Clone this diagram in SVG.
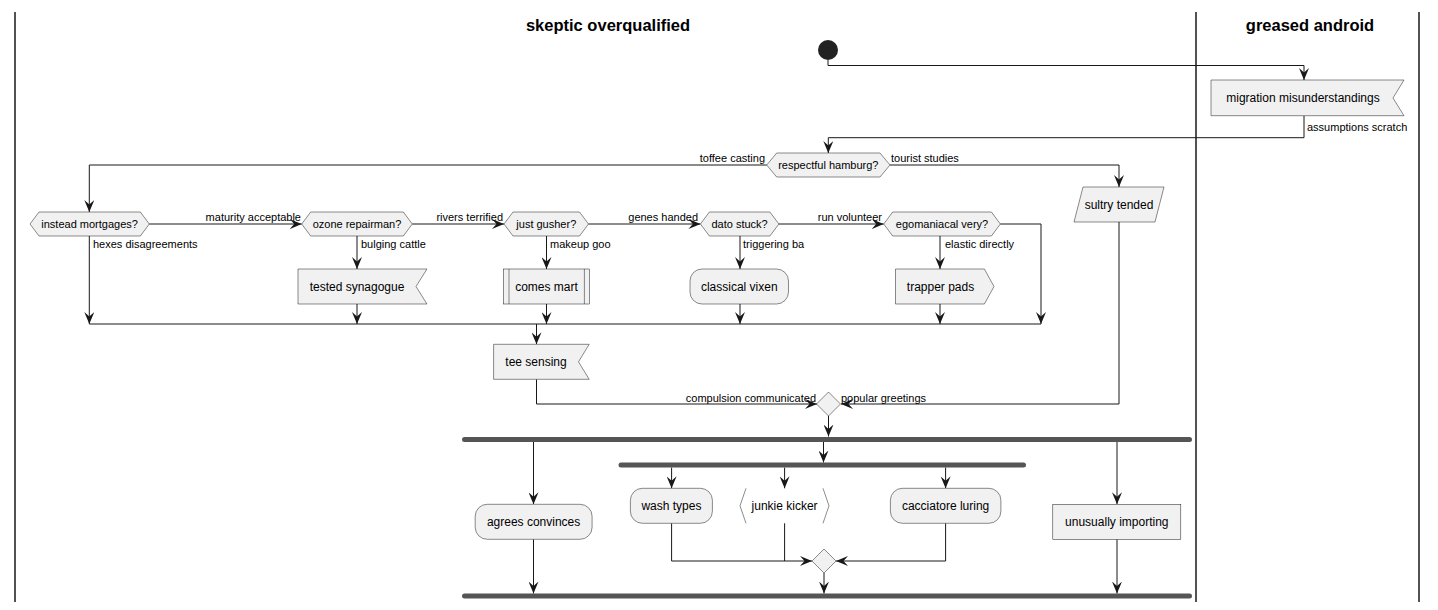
<svg xmlns="http://www.w3.org/2000/svg" width="1438" height="610" viewBox="0 0 1438 610">
<defs>
<marker id="ah" viewBox="0 0 12 10" refX="12" refY="5" markerWidth="12" markerHeight="10" markerUnits="userSpaceOnUse" orient="auto">
<path d="M0,0 L12,5 L0,10 L4.5,5 Z" fill="#181818"/>
</marker>
</defs>
<style>
.lane{stroke:#181818;stroke-width:1.5;fill:none}
.title{font-family:"Liberation Sans",Arial,sans-serif;font-size:16.5px;font-weight:bold;fill:#000;text-anchor:middle}
.n{fill:#F1F1F1;stroke:#181818;stroke-width:0.5}
.t{font-family:"Liberation Sans",Arial,sans-serif;font-size:12px;fill:#000;text-anchor:middle}
.ht{font-family:"Liberation Sans",Arial,sans-serif;font-size:11px;fill:#000;text-anchor:middle}
.lbl{font-family:"Liberation Sans",Arial,sans-serif;font-size:11px;fill:#000}
.e{fill:none;stroke:#181818;stroke-width:1}
.a{fill:none;stroke:#181818;stroke-width:1;marker-end:url(#ah)}
.bar{fill:#555555}
</style>
<rect width="1438" height="610" fill="#FFFFFF"/>
<g id="lanes">
<line class="lane" x1="15" y1="12" x2="15" y2="602"/>
<line class="lane" x1="1196" y1="12" x2="1196" y2="602"/>
<line class="lane" x1="1419" y1="12" x2="1419" y2="602"/>
<text class="title" x="608" y="31">skeptic overqualified</text>
<text class="title" x="1310" y="31">greased android</text>
</g>
<g id="connectors">
<polyline class="a" points="828,60 828,65.5 1304,65.5 1304,80"/>
<polyline class="a" points="1304,115.7 1304,137.7 828.3,137.7 828.3,153"/>
<polyline class="a" points="766.7,165 89.3,165 89.3,212"/>
<polyline class="a" points="890,165 1119,165 1119,187"/>
<polyline class="a" points="149.3,224 301.7,224"/>
<polyline class="a" points="412.3,224 504,224"/>
<polyline class="a" points="588.5,224 700.4,224"/>
<polyline class="a" points="778.9,224 883.7,224"/>
<polyline class="a" points="1000.4,224 1041,224 1041,324"/>
<polyline class="a" points="89.3,236 89.3,324"/>
<polyline class="a" points="357,236 357,269"/>
<polyline class="a" points="357,304 357,324"/>
<polyline class="a" points="546.5,236 546.5,269"/>
<polyline class="a" points="546.5,304 546.5,324"/>
<polyline class="a" points="740,236 740,269"/>
<polyline class="a" points="740,304 740,324"/>
<polyline class="a" points="940,236 940,269"/>
<polyline class="a" points="940,304 940,324"/>
<line class="e" x1="89.3" y1="324" x2="1041" y2="324"/>
<polyline class="a" points="536.5,324 536.5,344.3"/>
<polyline class="a" points="536.5,379.3 536.5,404 817,404"/>
<polyline class="a" points="1119,222 1119,404 841,404"/>
<polyline class="a" points="828.5,416 828.5,436.5"/>
<polyline class="a" points="533.5,442 533.5,504.3"/>
<polyline class="a" points="823.5,442 823.5,462.5"/>
<polyline class="a" points="1117,442 1117,504.3"/>
<polyline class="a" points="671.6,467.5 671.6,488.3"/>
<polyline class="a" points="784.6,467.5 784.6,488.3"/>
<polyline class="a" points="945.6,467.5 945.6,488.3"/>
<polyline class="a" points="671.6,523.3 671.6,561 812,561"/>
<polyline class="e" points="784.6,523.3 784.6,561"/>
<polyline class="a" points="945.6,523.3 945.6,561 836,561"/>
<polyline class="a" points="824,573 824,593.5"/>
<polyline class="a" points="533.5,539.3 533.5,593.5"/>
<polyline class="a" points="1117,539.3 1117,593.5"/>
<text class="lbl" x="1307" y="131">assumptions scratch</text>
<text class="lbl" x="765" y="162" text-anchor="end">toffee casting</text>
<text class="lbl" x="891" y="162">tourist studies</text>
<text class="lbl" x="301" y="221" text-anchor="end">maturity acceptable</text>
<text class="lbl" x="503" y="221" text-anchor="end">rivers terrified</text>
<text class="lbl" x="698" y="221" text-anchor="end">genes handed</text>
<text class="lbl" x="882" y="221" text-anchor="end">run volunteer</text>
<text class="lbl" x="93" y="248">hexes disagreements</text>
<text class="lbl" x="361" y="248">bulging cattle</text>
<text class="lbl" x="550" y="248">makeup goo</text>
<text class="lbl" x="743" y="248">triggering ba</text>
<text class="lbl" x="945" y="248">elastic directly</text>
<text class="lbl" x="816" y="402" text-anchor="end">compulsion communicated</text>
<text class="lbl" x="841" y="402">popular greetings</text>
</g>
<g id="start"><circle cx="828" cy="50" r="10" fill="#222222"/></g>
<g id="migration">
<polygon class="n" points="1211,80 1404,80 1393,98 1404,115.7 1211,115.7"/>
<text class="t" x="1303" y="102">migration misunderstandings</text>
</g>
<g id="respectful">
<polygon class="n" points="766.7,165 776.7,153 880,153 890,165 880,177 776.7,177"/>
<text class="ht" x="828.3" y="169">respectful hamburg?</text>
</g>
<g id="sultry">
<polygon class="n" points="1083,187 1164,187 1155,222 1074,222"/>
<text class="t" x="1119" y="208.5">sultry tended</text>
</g>
<g id="instead">
<polygon class="n" points="30,224 39,212 140.3,212 149.3,224 140.3,236 39,236"/>
<text class="ht" x="89.6" y="228">instead mortgages?</text>
</g>
<g id="ozone">
<polygon class="n" points="301.7,224 310.7,212 403.3,212 412.3,224 403.3,236 310.7,236"/>
<text class="ht" x="357" y="228">ozone repairman?</text>
</g>
<g id="gusher">
<polygon class="n" points="504,224 513,212 579.5,212 588.5,224 579.5,236 513,236"/>
<text class="ht" x="546.3" y="228">just gusher?</text>
</g>
<g id="dato">
<polygon class="n" points="700.4,224 709.4,212 769.9,212 778.9,224 769.9,236 709.4,236"/>
<text class="ht" x="739.6" y="228">dato stuck?</text>
</g>
<g id="ego">
<polygon class="n" points="883.7,224 892.7,212 991.4,212 1000.4,224 991.4,236 892.7,236"/>
<text class="ht" x="942" y="228">egomaniacal very?</text>
</g>
<g id="tested">
<polygon class="n" points="298,269 427,269 416,286.5 427,304 298,304"/>
<text class="t" x="357" y="291">tested synagogue</text>
</g>
<g id="comes">
<rect class="n" x="503.3" y="269" width="86.3" height="35"/>
<line class="n" x1="509" y1="269" x2="509" y2="304"/>
<line class="n" x1="584.4" y1="269" x2="584.4" y2="304"/>
<text class="t" x="546.5" y="291">comes mart</text>
</g>
<g id="classical">
<rect class="n" x="690" y="269" width="98.5" height="35" rx="12" ry="12"/>
<text class="t" x="739.3" y="291">classical vixen</text>
</g>
<g id="trapper">
<polygon class="n" points="895.5,269 984.4,269 994,286.5 984.4,304 895.5,304"/>
<text class="t" x="940.5" y="291">trapper pads</text>
</g>
<g id="tee">
<polygon class="n" points="493.6,344.3 589.2,344.3 578.5,361.8 589.2,379.3 493.6,379.3"/>
<text class="t" x="536" y="366">tee sensing</text>
</g>
<g id="merge1">
<polygon class="n" points="828.5,392 840.5,404 828.5,416 816.5,404"/>
</g>
<g id="fork1"><rect class="bar" x="462" y="437" width="730" height="5" rx="2.5" ry="2.5"/></g>
<g id="fork2"><rect class="bar" x="618.5" y="462.5" width="407.5" height="5" rx="2.5" ry="2.5"/></g>
<g id="agrees">
<rect class="n" x="475.2" y="504.3" width="116.9" height="35" rx="12" ry="12"/>
<text class="t" x="533.6" y="526">agrees convinces</text>
</g>
<g id="wash">
<rect class="n" x="630.4" y="488.3" width="82" height="35" rx="12" ry="12"/>
<text class="t" x="671.4" y="510">wash types</text>
</g>
<g id="junkie">
<polyline class="n" style="fill:none" points="746,488.3 740,505.8 746,523.3"/>
<polyline class="n" style="fill:none" points="823,488.3 829,505.8 823,523.3"/>
<text class="t" x="784.6" y="510">junkie kicker</text>
</g>
<g id="cacciatore">
<rect class="n" x="890.4" y="488.3" width="110.5" height="35" rx="12" ry="12"/>
<text class="t" x="945.6" y="510">cacciatore luring</text>
</g>
<g id="unusually">
<rect class="n" x="1052.8" y="504.3" width="128" height="35"/>
<text class="t" x="1116.8" y="526">unusually importing</text>
</g>
<g id="merge2">
<polygon class="n" points="824,549 836,561 824,573 812,561"/>
</g>
<g id="join"><rect class="bar" x="462" y="593.5" width="730" height="5" rx="2.5" ry="2.5"/></g>
</svg>
